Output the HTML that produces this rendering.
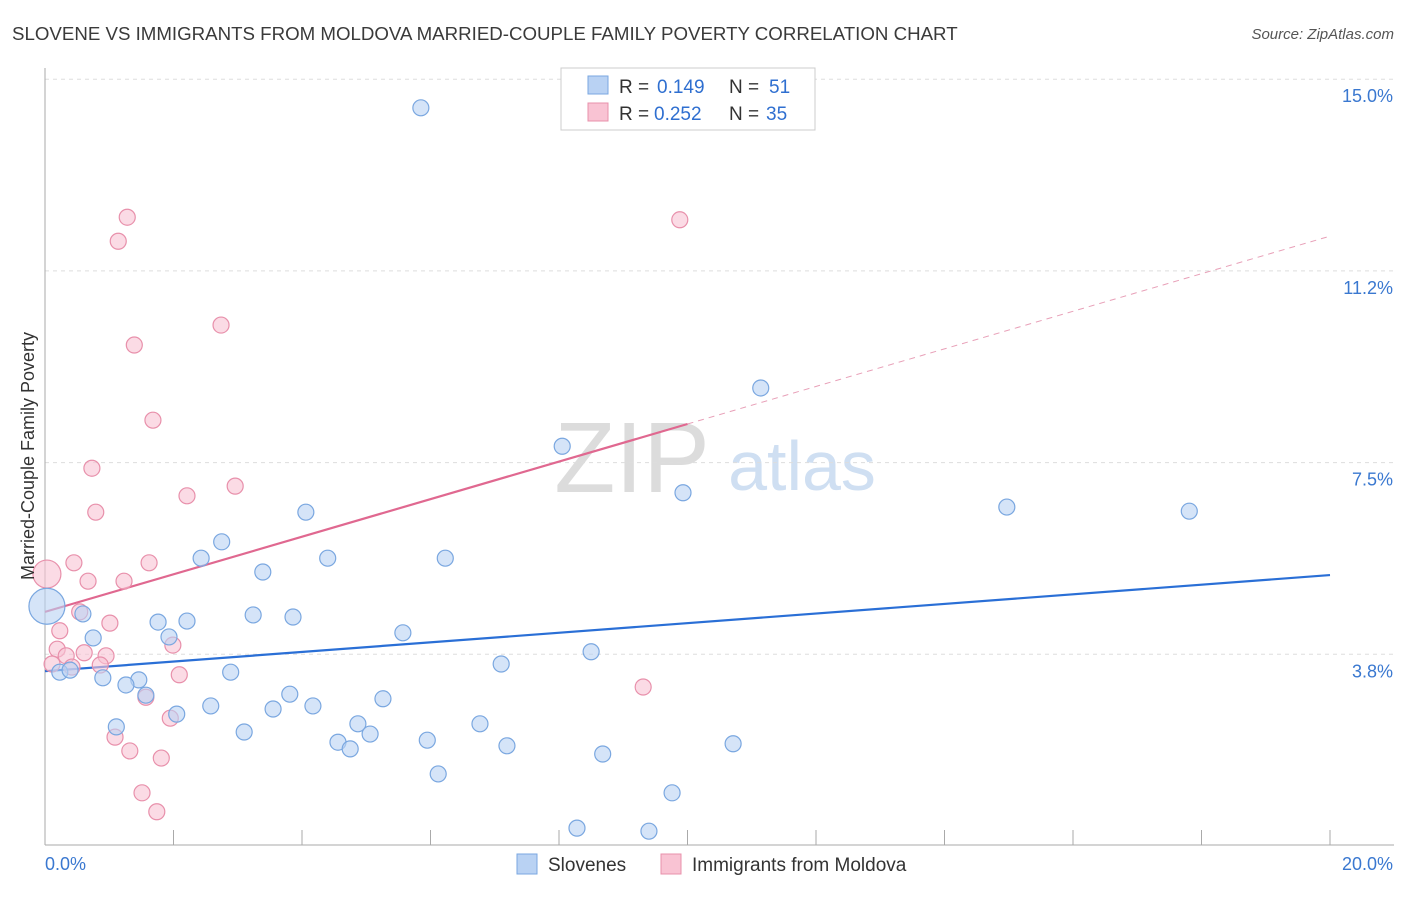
<!DOCTYPE html>
<html><head><meta charset="utf-8"><style>
body{margin:0;background:#fff;font-family:"Liberation Sans",sans-serif;}
svg text{font-family:"Liberation Sans",sans-serif;}
</style></head><body>
<svg id="chart" width="1406" height="892" viewBox="0 0 1406 892" xmlns="http://www.w3.org/2000/svg">
<text x="12" y="40" font-size="18.7" fill="#3a3a3a">SLOVENE VS IMMIGRANTS FROM MOLDOVA MARRIED-COUPLE FAMILY POVERTY CORRELATION CHART</text>
<text x="1394" y="39" font-size="15" fill="#555" text-anchor="end" font-style="italic">Source: ZipAtlas.com</text>
<g>
<text x="632" y="492" font-size="100" fill="#dcdcdc" text-anchor="middle" font-family="Liberation Serif">ZIP</text>
<text x="802" y="490" font-size="70" fill="#cfdff2" text-anchor="middle">atlas</text>
</g>
<g id="grid"></g>
<g id="axes"></g>
<g id="lines"></g>
<g id="points"></g>
<text transform="translate(34,456) rotate(-90)" font-size="18" fill="#333" text-anchor="middle">Married-Couple Family Poverty</text>
<g>
<rect x="561" y="68" width="254" height="62" fill="#fff" stroke="#ccc"/>
<rect x="588" y="76" width="20" height="18" fill="#b9d2f3" stroke="#7aa7e0"/>
<rect x="588" y="103" width="20" height="18" fill="#f9c3d3" stroke="#e890ab"/>
<text y="93" font-size="19" fill="#333"><tspan x="619">R =</tspan><tspan x="657" fill="#2f6fd0">0.149</tspan><tspan x="729">N =</tspan><tspan x="769" fill="#2f6fd0">51</tspan></text>
<text y="120" font-size="19" fill="#333"><tspan x="619">R =</tspan><tspan x="654" fill="#2f6fd0">0.252</tspan><tspan x="729">N =</tspan><tspan x="766" fill="#2f6fd0">35</tspan></text>
</g>
<g>
<rect x="517" y="854" width="20" height="20" fill="#b9d2f3" stroke="#7aa7e0"/>
<text x="548" y="871" font-size="19" fill="#333">Slovenes</text>
<rect x="661" y="854" width="20" height="20" fill="#f9c3d3" stroke="#e890ab"/>
<text x="692" y="871" font-size="19" fill="#333">Immigrants from Moldova</text>
</g>
</svg>
<script>
const blueX=[5.85,11.14,8.05,9.93,14.97,17.81,4.06,2.75,2.43,4.40,6.23,3.39,0.59,3.24,3.86,1.76,2.21,5.57,0.75,1.93,8.50,7.10,0.23,0.39,2.89,0.90,1.46,1.26,1.57,3.81,5.26,2.58,3.55,4.17,2.05,4.87,6.77,1.11,3.10,5.06,4.56,5.95,7.19,10.71,4.75,8.68,6.12,9.76,8.28,9.40,0.03];
const blueY=[14.44,8.96,7.82,6.91,6.63,6.55,6.53,5.95,5.63,5.63,5.63,5.36,4.54,4.52,4.48,4.38,4.40,4.17,4.07,4.09,3.80,3.56,3.40,3.44,3.40,3.29,3.25,3.15,2.95,2.97,2.88,2.74,2.68,2.74,2.58,2.39,2.39,2.33,2.23,2.19,2.03,2.07,1.96,2.00,1.90,1.80,1.41,1.04,0.35,0.29,4.69];
const pinkX=[1.28,1.14,9.88,2.74,1.39,1.68,0.73,2.21,2.96,0.79,0.45,1.62,0.67,1.23,0.03,0.54,1.01,0.23,1.99,0.19,0.33,0.61,0.95,0.11,0.86,0.42,2.09,9.31,1.57,1.95,1.09,1.32,1.81,1.51,1.74];
const pinkY=[12.30,11.83,12.25,10.19,9.80,8.33,7.39,6.85,7.04,6.53,5.54,5.54,5.18,5.18,5.32,4.58,4.36,4.21,3.93,3.85,3.72,3.78,3.72,3.56,3.54,3.50,3.35,3.11,2.91,2.50,2.13,1.86,1.72,1.04,0.67];
const yTicks=[3.75,7.5,11.25,15];
const yTickLabels=["3.8%","7.5%","11.2%","15.0%"];
const blueTrend=[3.42,5.30];
const pinkTrend=[4.58,11.93];
const NS="http://www.w3.org/2000/svg";
const xs=v=>45+v*64.25, ys=v=>846-v*51.12;
function mk(t,a,p){const e=document.createElementNS(NS,t);for(const k in a)e.setAttribute(k,a[k]);p.appendChild(e);return e;}
const grid=document.getElementById('grid'),axes=document.getElementById('axes'),lines=document.getElementById('lines'),pts=document.getElementById('points');
yTicks.forEach((t,i)=>{
 const l=mk('line',{x1:45,x2:1394,y1:ys(t),y2:ys(t),stroke:'#ddd','stroke-dasharray':'4,4'},grid);
 
 
 const tx=mk('text',{x:1393,y:ys(t)+23,'font-size':18,fill:'#3a78d0','text-anchor':'end'},grid);
 tx.textContent=yTickLabels[i];
 
 
});
mk('line',{x1:45,x2:45,y1:68,y2:845,stroke:'#aaa'},axes);
mk('line',{x1:45,x2:1394,y1:845,y2:845,stroke:'#aaa'},axes);
for(let i=1;i<=10;i++){const t=mk('line',{x1:xs(i*2),x2:xs(i*2),y1:830,y2:845,stroke:'#aaa'},axes);
 
 }
const xl0=mk('text',{x:45,y:870,'font-size':18,fill:'#3a78d0'},axes);xl0.textContent='0.0%';


const xl1=mk('text',{x:1393,y:870,'font-size':18,fill:'#3a78d0','text-anchor':'end'},axes);xl1.textContent='20.0%';


function dot(x,y,r,fill,stroke){const c=mk('circle',{cx:xs(x),cy:ys(y),r:r,fill:fill,stroke:stroke,'stroke-width':1.2,'fill-opacity':0.6},pts);return c;}
pinkX.forEach((x,i)=>{const c=dot(x,pinkY[i],i===14?14:8,'#f9c3d3','#e890ab');
 
 });
blueX.forEach((x,i)=>{const c=dot(x,blueY[i],i===50?18:8,'#b9d2f3','#7aa7e0');
 
 });
const pm=pinkTrend[0]+(pinkTrend[1]-pinkTrend[0])*0.5;
const pl=mk('line',{x1:xs(0),y1:ys(pinkTrend[0]),x2:xs(10),y2:ys(pm),stroke:'#e06890','stroke-width':2.2},lines);


const pd=mk('line',{x1:xs(10),y1:ys(pm),x2:xs(20),y2:ys(pinkTrend[1]),stroke:'#e8a0b8','stroke-width':1,'stroke-dasharray':'6,5'},lines);


const bl=mk('line',{x1:xs(0),y1:ys(blueTrend[0]),x2:xs(20),y2:ys(blueTrend[1]),stroke:'#2a6fd6','stroke-width':2.2},lines);


</script>
</body></html>
